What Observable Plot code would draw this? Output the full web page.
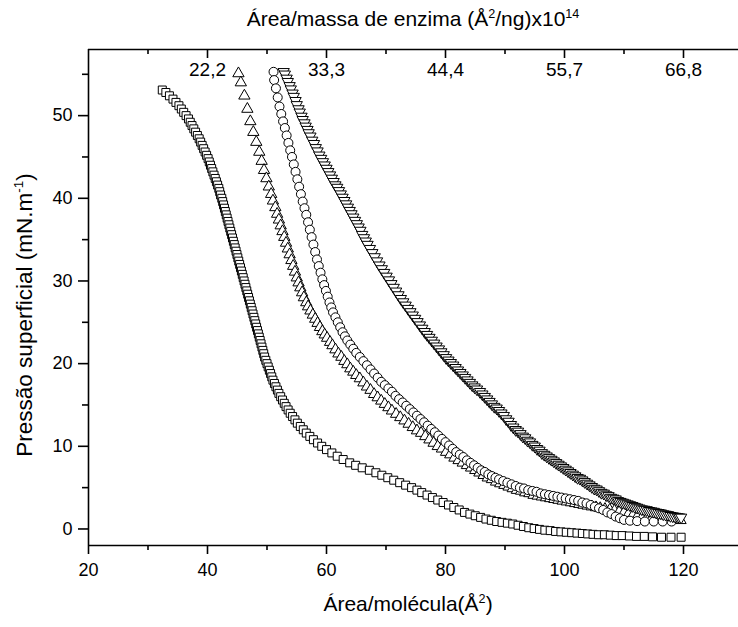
<!DOCTYPE html>
<html><head><meta charset="utf-8">
<script src="https://cdn.jsdelivr.net/npm/d3@7"></script>
<script src="https://cdn.jsdelivr.net/npm/@observablehq/plot@0.6"></script>
<style>
body{margin:0;background:#fff}
svg{font-family:"Liberation Sans",Arial,sans-serif}
</style>
</head><body><div id="chart"></div>
<script>
// Tick values and labels
const xTicks=[20,40,60,80,100,120];
const xMinor=[30,50,70,90,110];
const yTicks=[0,10,20,30,40,50];
const yMinor=[5,15,25,35,45,55];
const topTickPos=[40,60,80,100,120];
const topTickLabels=["22,2","33,3","44,4","55,7","66,8"];
const topMinor=[30,50,70,90,110];

// Series 1: squares  [area/molecule, surface pressure]
const squares=[[32.4,53.1],[33.0,52.8],[33.6,52.4],[34.2,52.0],[34.7,51.6],[35.2,51.2],[35.6,50.8],[36.0,50.4],[36.4,50.0],[36.8,49.6],[37.1,49.2],[37.4,48.8],[37.7,48.4],[38.0,48.0],[38.3,47.6],[38.6,47.2],[38.85,46.8],[39.1,46.4],[39.35,46.0],[39.6,45.6],[39.85,45.2],[40.1,44.8],[40.3,44.4],[40.5,44.0],[40.7,43.6],[40.9,43.2],[41.1,42.8],[41.3,42.4],[41.5,42.0],[41.7,41.6],[41.9,41.2],[42.05,40.8],[42.2,40.4],[42.4,40.0],[42.55,39.6],[42.7,39.2],[42.85,38.8],[43.0,38.4],[43.15,38.0],[43.3,37.6],[43.45,37.2],[43.6,36.8],[43.75,36.4],[43.9,36.0],[44.05,35.6],[44.2,35.2],[44.35,34.8],[44.5,34.4],[44.65,34.0],[44.8,33.6],[44.95,33.2],[45.1,32.8],[45.25,32.4],[45.4,32.0],[45.55,31.6],[45.7,31.2],[45.85,30.8],[46.0,30.4],[46.15,30.0],[46.3,29.6],[46.45,29.2],[46.6,28.8],[46.75,28.4],[46.9,28.0],[47.05,27.6],[47.2,27.2],[47.35,26.8],[47.5,26.4],[47.65,26.0],[47.8,25.6],[47.95,25.2],[48.1,24.8],[48.25,24.4],[48.4,24.0],[48.55,23.6],[48.7,23.2],[48.85,22.8],[49.0,22.4],[49.15,22.0],[49.3,21.6],[49.45,21.2],[49.6,20.8],[49.8,20.4],[50.0,20.0],[50.2,19.6],[50.4,19.2],[50.6,18.8],[50.8,18.4],[51.0,18.0],[51.25,17.6],[51.5,17.2],[51.75,16.8],[52.0,16.4],[52.3,16.0],[52.6,15.6],[52.9,15.2],[53.2,14.8],[53.55,14.4],[53.9,14.0],[54.3,13.6],[54.7,13.2],[55.1,12.8],[55.6,12.4],[56.1,12.0],[56.6,11.6],[57.2,11.2],[57.8,10.8],[58.5,10.4],[59.2,10.0],[60.0,9.6],[60.9,9.2],[61.8,8.8],[62.8,8.4],[63.9,8.0],[64.9,7.7],[66.0,7.4],[67.2,7.1],[68.3,6.8],[69.3,6.5],[70.3,6.2],[71.3,5.9],[72.3,5.6],[73.3,5.3],[74.3,5.0],[75.2,4.7],[76.0,4.4],[76.9,4.1],[77.8,3.8],[78.7,3.5],[79.6,3.2],[80.5,2.9],[81.4,2.6],[82.3,2.3],[83.2,2.0],[84.1,1.8],[85.0,1.6],[85.9,1.4],[86.8,1.2],[87.7,1.05],[88.6,0.9],[89.5,0.8],[90.4,0.7],[91.3,0.6],[92.2,0.45],[93.1,0.3],[94.0,0.15],[94.9,0.05],[95.8,-0.05],[96.7,-0.15],[97.6,-0.2],[98.5,-0.3],[99.4,-0.35],[100.3,-0.4],[101.2,-0.45],[102.1,-0.5],[103.0,-0.55],[103.9,-0.6],[104.8,-0.65],[105.7,-0.7],[106.7,-0.7],[107.7,-0.75],[108.7,-0.8],[109.7,-0.8],[110.9,-0.85],[112.1,-0.9],[113.4,-0.9],[114.8,-0.95],[116.3,-1.0],[117.9,-1.0],[119.6,-1.0]];

// Series 2: up triangles
const upTriangles=[[45.2,55.1],[45.6,54.0],[46.2,52.4],[46.7,50.8],[47.2,49.3],[47.7,48.0],[48.2,46.8],[48.7,45.6],[49.1,44.5],[49.5,43.4],[49.9,42.4],[50.3,41.4],[50.7,40.5],[51.0,39.7],[51.4,38.9],[51.7,38.1],[52.0,37.4],[52.3,36.7],[52.6,36.0],[52.9,35.3],[53.2,34.6],[53.5,33.9],[53.8,33.2],[54.1,32.5],[54.4,31.8],[54.7,31.1],[55.0,30.4],[55.3,29.8],[55.6,29.2],[55.9,28.6],[56.2,28.0],[56.6,27.4],[56.9,26.9],[57.3,26.4],[57.7,25.9],[58.1,25.4],[58.5,24.9],[58.9,24.4],[59.3,23.9],[59.7,23.5],[60.1,23.1],[60.6,22.6],[61.0,22.2],[61.5,21.7],[62.0,21.2],[62.5,20.8],[63.0,20.3],[63.5,19.9],[64.0,19.4],[64.5,19.0],[65.0,18.6],[65.6,18.2],[66.2,17.7],[66.8,17.2],[67.4,16.8],[68.0,16.3],[68.6,15.9],[69.2,15.5],[69.8,15.1],[70.4,14.7],[71.0,14.3],[71.7,13.9],[72.4,13.5],[73.1,13.1],[73.8,12.7],[74.5,12.3],[75.2,11.9],[75.9,11.6],[76.6,11.2],[77.3,10.8],[78.0,10.4],[78.7,10.0],[79.4,9.7],[80.1,9.3],[80.8,9.0],[81.5,8.6],[82.2,8.3],[82.9,8.0],[83.6,7.7],[84.3,7.4],[85.0,7.1],[85.7,6.8],[86.4,6.5],[87.1,6.2],[87.8,6.0],[88.5,5.7],[89.2,5.5],[89.9,5.3],[90.6,5.1],[91.3,4.9],[92.0,4.7],[92.7,4.6],[93.4,4.4],[94.1,4.3],[94.8,4.1],[95.5,4.0],[96.2,3.9],[96.9,3.8],[97.6,3.7],[98.3,3.6],[99.0,3.5],[99.7,3.4],[100.4,3.3],[101.1,3.2],[101.8,3.1],[102.5,3.0],[103.2,2.9],[103.9,2.8],[104.6,2.7],[105.3,2.6],[106.0,2.5],[106.8,2.4],[107.6,2.3],[108.4,2.2],[109.2,2.1],[110.0,2.0],[110.8,1.9],[111.6,1.8],[112.4,1.7],[113.2,1.6],[114.0,1.5],[114.8,1.4],[115.6,1.35],[116.4,1.3],[117.2,1.2],[118.0,1.15],[118.8,1.1],[119.5,1.05]];

// Series 3: circles
const circles=[[51.1,55.3],[51.2,54.3],[51.5,53.3],[51.8,52.2],[52.1,51.1],[52.4,50.2],[52.7,49.3],[53.0,48.5],[53.3,47.6],[53.6,46.7],[53.9,45.8],[54.2,45.0],[54.5,44.1],[54.8,43.2],[55.1,42.3],[55.4,41.4],[55.7,40.5],[56.0,39.6],[56.3,38.8],[56.6,38.0],[56.9,37.1],[57.2,36.2],[57.5,35.3],[57.8,34.4],[58.1,33.5],[58.4,32.6],[58.7,31.8],[59.0,31.0],[59.3,30.2],[59.6,29.5],[59.9,28.8],[60.2,28.1],[60.5,27.4],[60.8,26.8],[61.1,26.2],[61.5,25.6],[61.9,25.0],[62.3,24.4],[62.7,23.8],[63.1,23.3],[63.5,22.8],[64.0,22.3],[64.5,21.8],[65.0,21.3],[65.6,20.8],[66.2,20.3],[66.8,19.8],[67.4,19.3],[68.0,18.8],[68.6,18.3],[69.2,17.8],[69.8,17.4],[70.4,17.0],[71.0,16.6],[71.6,16.1],[72.2,15.7],[72.8,15.3],[73.4,14.9],[74.0,14.5],[74.6,14.1],[75.2,13.7],[75.8,13.3],[76.4,12.9],[77.0,12.5],[77.6,12.1],[78.2,11.7],[78.8,11.3],[79.4,10.9],[80.0,10.5],[80.6,10.1],[81.2,9.7],[81.8,9.3],[82.4,9.0],[83.0,8.7],[83.6,8.3],[84.2,8.0],[84.8,7.7],[85.4,7.4],[86.0,7.1],[86.6,6.9],[87.2,6.6],[87.8,6.4],[88.4,6.2],[89.0,6.0],[89.7,5.8],[90.4,5.6],[91.1,5.4],[91.8,5.2],[92.5,5.0],[93.2,4.9],[93.9,4.7],[94.6,4.6],[95.3,4.5],[96.0,4.3],[96.7,4.2],[97.4,4.1],[98.1,4.0],[98.8,3.9],[99.5,3.8],[100.2,3.7],[100.9,3.6],[101.6,3.5],[102.3,3.4],[103.0,3.2],[103.7,3.1],[104.4,2.9],[105.1,2.7],[105.8,2.5],[106.5,2.3],[107.2,2.0],[107.9,1.8],[108.6,1.5],[109.3,1.3],[110.0,1.1],[111.0,1.0],[112.2,0.95],[113.5,0.9],[115.0,0.9],[116.5,0.9],[118.0,0.9]];

// Series 4: down triangles
const downTriangles=[[52.8,55.3],[53.0,55.0],[53.3,54.5],[53.5,54.1],[53.8,53.6],[54.0,53.2],[54.3,52.7],[54.5,52.3],[54.8,51.8],[55.0,51.3],[55.3,50.8],[55.5,50.4],[55.8,49.9],[56.0,49.5],[56.3,49.1],[56.5,48.7],[56.8,48.3],[57.0,47.9],[57.3,47.5],[57.6,47.0],[57.9,46.6],[58.2,46.1],[58.5,45.7],[58.8,45.2],[59.1,44.8],[59.4,44.4],[59.7,44.0],[60.0,43.6],[60.3,43.2],[60.6,42.8],[60.9,42.4],[61.2,42.0],[61.5,41.6],[61.8,41.3],[62.1,40.9],[62.4,40.5],[62.7,40.1],[63.0,39.7],[63.3,39.3],[63.6,38.9],[63.9,38.5],[64.2,38.1],[64.5,37.7],[64.8,37.3],[65.1,36.9],[65.4,36.5],[65.7,36.1],[66.0,35.6],[66.3,35.2],[66.6,34.8],[66.9,34.4],[67.3,33.9],[67.7,33.4],[68.1,32.9],[68.5,32.4],[68.9,31.9],[69.3,31.45],[69.7,31.0],[70.1,30.55],[70.5,30.1],[70.9,29.65],[71.3,29.2],[71.7,28.75],[72.1,28.3],[72.5,27.85],[72.9,27.45],[73.3,27.05],[73.7,26.65],[74.1,26.25],[74.5,25.85],[74.9,25.45],[75.3,25.05],[75.7,24.65],[76.1,24.25],[76.5,23.85],[76.9,23.5],[77.3,23.15],[77.7,22.8],[78.1,22.45],[78.5,22.1],[78.9,21.75],[79.3,21.4],[79.7,21.05],[80.1,20.7],[80.5,20.4],[80.9,20.1],[81.3,19.8],[81.7,19.5],[82.1,19.2],[82.5,18.9],[82.9,18.6],[83.3,18.3],[83.7,18.0],[84.1,17.7],[84.5,17.4],[84.9,17.15],[85.3,16.9],[85.8,16.6],[86.2,16.3],[86.6,16.0],[87.0,15.7],[87.4,15.4],[87.8,15.1],[88.2,14.8],[88.6,14.6],[89.0,14.3],[89.4,14.0],[89.8,13.7],[90.2,13.3],[90.6,13.0],[91.0,12.6],[91.4,12.3],[91.8,12.0],[92.2,11.8],[92.6,11.5],[93.0,11.2],[93.4,11.0],[93.8,10.7],[94.2,10.5],[94.6,10.2],[95.0,10.0],[95.4,9.7],[95.8,9.5],[96.2,9.2],[96.6,9.0],[97.0,8.8],[97.4,8.6],[97.8,8.4],[98.2,8.2],[98.6,8.0],[99.0,7.8],[99.4,7.6],[99.8,7.4],[100.2,7.2],[100.6,7.0],[101.0,6.8],[101.4,6.6],[101.8,6.4],[102.2,6.2],[102.6,6.1],[103.0,5.9],[103.4,5.7],[103.8,5.5],[104.2,5.3],[104.6,5.1],[105.0,4.9],[105.4,4.8],[105.8,4.6],[106.2,4.4],[106.6,4.3],[107.0,4.1],[107.4,4.0],[107.8,3.8],[108.2,3.7],[108.6,3.6],[109.0,3.4],[109.4,3.3],[109.8,3.2],[110.2,3.1],[110.6,3.0],[111.0,2.9],[111.4,2.8],[111.8,2.7],[112.2,2.6],[112.6,2.5],[113.0,2.4],[113.4,2.35],[113.8,2.3],[114.2,2.2],[114.6,2.15],[115.0,2.1],[115.4,2.0],[115.8,1.95],[116.2,1.9],[116.6,1.8],[117.0,1.75],[117.4,1.7],[117.8,1.6],[118.2,1.55],[118.6,1.5],[119.0,1.45],[119.3,1.4],[119.6,1.4]];

const W=738,H=627,mT=49,mB=82,mL=88;
const plotH=H-mT-mB;
const topLabel=new Map(topTickPos.map((d,i)=>[d,topTickLabels[i]]));
const mk={x:d=>d[0],y:d=>d[1],stroke:"black",fill:"white",strokeWidth:1};

const chart=Plot.plot({
  width:W,height:H,marginTop:mT,marginBottom:mB,marginLeft:mL,marginRight:0,
  style:{fontFamily:"Liberation Sans, Arial, sans-serif",background:"white",color:"black"},
  x:{domain:[20,130],range:[mL,742.5]},
  y:{domain:[-2,58]},
  marks:[
    Plot.dot(squares,{...mk,symbol:"square",r:4.5}),
    Plot.dot(upTriangles,{...mk,symbol:"triangle",r:4.2}),
    Plot.dot(circles,{...mk,symbol:"circle",r:4.5}),
    Plot.dot(downTriangles,{...mk,symbol:"triangle",rotate:180,r:4.2}),
    // frame lines
    Plot.ruleY([-2,58],{stroke:"black",strokeWidth:1.6}),
    Plot.ruleX([20],{stroke:"black",strokeWidth:1.6}),
    // bottom axis
    Plot.axisX(xTicks,{anchor:"bottom",tickSize:9,tickPadding:9,fontSize:18,label:null,strokeWidth:1.6}),
    Plot.axisX(xMinor,{anchor:"bottom",tickSize:5,tickFormat:()=>"",label:null,strokeWidth:1.6}),
    // left axis
    Plot.axisY(yTicks,{anchor:"left",tickSize:10,tickPadding:6,fontSize:18,label:null,strokeWidth:1.6}),
    Plot.axisY(yMinor,{anchor:"left",tickSize:6,tickFormat:()=>"",label:null,strokeWidth:1.6}),
    // top axis: labels inside, ticks inward
    Plot.axisX(topTickPos,{anchor:"top",tickSize:0,tickPadding:-13,lineAnchor:"top",fontSize:19,label:null,tickFormat:d=>topLabel.get(d)}),
    Plot.ruleX(topTickPos,{stroke:"black",strokeWidth:1.6,insetBottom:plotH-9}),
    Plot.ruleX(topMinor,{stroke:"black",strokeWidth:1.6,insetBottom:plotH-5})
  ]
});

const svg=d3.select(chart);
function addTitle(parts,attrs,size){
  const t=svg.append("text").attr("font-size",size).attr("fill","black").attr("text-anchor","middle");
  for(const k in attrs) t.attr(k,attrs[k]);
  parts.forEach(p=>{
    const ts=t.append("tspan").text(p.t);
    if(p.sup){ts.attr("font-size","0.6em").attr("dy","-0.65em");}
    else if(p.after){ts.attr("dy","0.39em");}
  });
}
addTitle([{t:"Área/massa de enzima (Å"},{t:"2",sup:true},{t:"/ng)x10",after:true},{t:"14",sup:true}],{x:413,y:26},21);
addTitle([{t:"Área/molécula(Å"},{t:"2",sup:true},{t:")",after:true}],{x:408,y:611},21);
addTitle([{t:"Pressão superficial (mN.m"},{t:"-1",sup:true},{t:")",after:true}],{transform:"rotate(-90)",x:-315,y:32},22.5);

document.getElementById("chart").appendChild(chart);
</script>
</body></html>
